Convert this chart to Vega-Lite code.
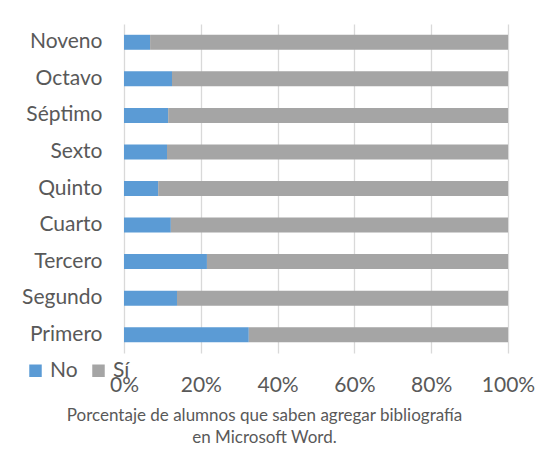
{
  "$schema": "https://vega.github.io/schema/vega-lite/v6.json",
  "width": 384,
  "height": 329,
  "autosize": {"type": "none"},
  "padding": {"left": 124, "top": 24, "right": 34, "bottom": 96},
  "background": "white",
  "data": {
    "values": [
      {"curso": "Noveno", "respuesta": "No", "valor": 0.068},
      {"curso": "Noveno", "respuesta": "Sí", "valor": 0.932},
      {"curso": "Octavo", "respuesta": "No", "valor": 0.125},
      {"curso": "Octavo", "respuesta": "Sí", "valor": 0.875},
      {"curso": "Séptimo", "respuesta": "No", "valor": 0.115},
      {"curso": "Séptimo", "respuesta": "Sí", "valor": 0.885},
      {"curso": "Sexto", "respuesta": "No", "valor": 0.112},
      {"curso": "Sexto", "respuesta": "Sí", "valor": 0.888},
      {"curso": "Quinto", "respuesta": "No", "valor": 0.089},
      {"curso": "Quinto", "respuesta": "Sí", "valor": 0.911},
      {"curso": "Cuarto", "respuesta": "No", "valor": 0.122},
      {"curso": "Cuarto", "respuesta": "Sí", "valor": 0.878},
      {"curso": "Tercero", "respuesta": "No", "valor": 0.216},
      {"curso": "Tercero", "respuesta": "Sí", "valor": 0.784},
      {"curso": "Segundo", "respuesta": "No", "valor": 0.138},
      {"curso": "Segundo", "respuesta": "Sí", "valor": 0.862},
      {"curso": "Primero", "respuesta": "No", "valor": 0.325},
      {"curso": "Primero", "respuesta": "Sí", "valor": 0.675}
    ]
  },
  "mark": {"type": "bar"},
  "encoding": {
    "y": {
      "field": "curso",
      "type": "nominal",
      "sort": ["Noveno", "Octavo", "Séptimo", "Sexto", "Quinto", "Cuarto", "Tercero", "Segundo", "Primero"],
      "scale": {"paddingInner": 0.59, "paddingOuter": 0.295},
      "axis": {
        "title": null,
        "ticks": false,
        "domain": false,
        "labelPadding": 22,
        "labelFontSize": 21,
        "labelFont": "Lato",
        "labelColor": "#595959"
      }
    },
    "x": {
      "field": "valor",
      "type": "quantitative",
      "stack": "zero",
      "scale": {"domain": [0, 1], "nice": false},
      "axis": {
        "format": "%",
        "values": [0, 0.2, 0.4, 0.6, 0.8, 1],
        "ticks": false,
        "domain": false,
        "grid": true,
        "gridColor": "#D9D9D9",
        "gridWidth": 1.3,
        "labelPadding": 21,
        "labelFontSize": 21,
        "labelFont": "Lato",
        "labelColor": "#595959",
        "labelFlush": false,
        "title": ["Porcentaje de alumnos que saben agregar bibliografía", "en Microsoft Word."],
        "titleFont": "Lato",
        "titleFontSize": 17,
        "titleFontWeight": "normal",
        "titleColor": "#595959",
        "titleLineHeight": 22,
        "titleX": 140,
        "titleY": 54,
        "titleBaseline": "top",
        "titleAlign": "center",
        "titleAnchor": "start"
      }
    },
    "color": {
      "field": "respuesta",
      "type": "nominal",
      "scale": {"domain": ["No", "Sí"], "range": ["#5B9BD5", "#A5A5A5"]},
      "legend": {
        "title": null,
        "orient": "none",
        "direction": "horizontal",
        "legendX": -99,
        "legendY": 336,
        "symbolType": "square",
        "symbolSize": 156,
        "symbolStrokeWidth": 0,
        "labelFontSize": 21,
        "labelFont": "Lato",
        "labelColor": "#595959",
        "labelOffset": 4,
        "columnPadding": 10
      }
    },
    "order": {"field": "respuesta", "sort": "ascending"}
  },
  "config": {"view": {"stroke": null}}
}
